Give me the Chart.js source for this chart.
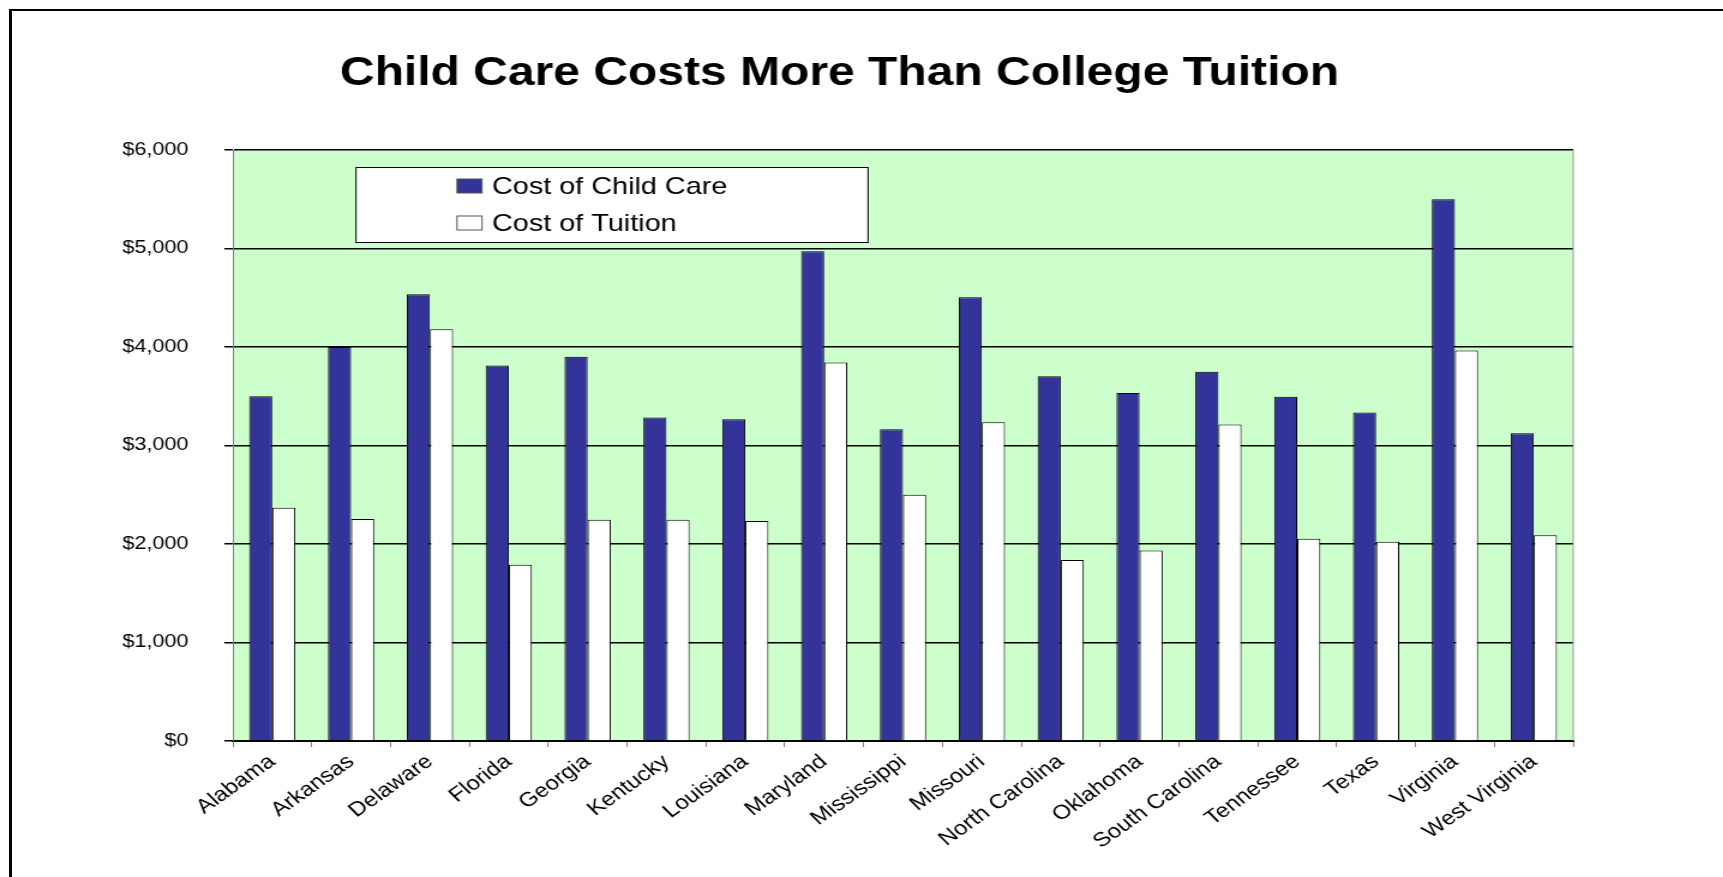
<!DOCTYPE html>
<html><head><meta charset="utf-8">
<script src="https://cdn.jsdelivr.net/npm/chart.js@4.4.1/dist/chart.umd.min.js"></script>
<style>
html,body{margin:0;padding:0;background:#fff;width:1723px;height:877px;overflow:hidden;}
#wrap{position:absolute;left:0;top:0;width:1436px;height:877px;transform:scaleX(1.2);transform-origin:0 0;}
#frame{position:absolute;left:9px;top:9px;right:-20px;bottom:-20px;border-top:2px solid #000;border-left:3px solid #000;pointer-events:none;}
</style></head><body>
<div id="wrap"><canvas id="c" width="1436" height="877"></canvas></div>
<div id="frame"></div>
<script>
const categories = ['Alabama','Arkansas','Delaware','Florida','Georgia','Kentucky','Louisiana','Maryland','Mississippi','Missouri','North Carolina','Oklahoma','South Carolina','Tennessee','Texas','Virginia','West Virginia'];
const childCareCost = [3500, 4000, 4535, 3812, 3901, 3283, 3266, 4973, 3164, 4505, 3704, 3532, 3750, 3496, 3334, 5501, 3124];
const tuitionCost = [2367, 2255, 4179, 1790, 2245, 2245, 2234, 3843, 2499, 3236, 1837, 1935, 3212, 2054, 2023, 3964, 2088];
const yTickLabels = ['$0','$1,000','$2,000','$3,000','$4,000','$5,000','$6,000'];
const seriesNames = ['Cost of Child Care','Cost of Tuition'];
const titleText = 'Child Care Costs More Than College Tuition';

const SX = 1.2;
const FONT = '"Liberation Sans", Arial, Helvetica, sans-serif';
Chart.defaults.font.family = FONT;
Chart.defaults.color = '#000';

const plotDecor = {
  id: 'plotDecor',
  beforeDraw(chart) {
    const {ctx, chartArea: a} = chart;
    ctx.save();
    ctx.fillStyle = '#CCFFCC';
    ctx.fillRect(a.left, a.top, a.right - a.left, a.bottom - a.top);
    ctx.restore();
  },
  afterDatasetsDraw(chart) {
    const {ctx, chartArea: a} = chart;
    ctx.save();
    ctx.strokeStyle = '#9a9a9a';
    ctx.lineWidth = 1;
    ctx.beginPath();
    ctx.moveTo(a.right, a.top);
    ctx.lineTo(a.right, a.bottom);
    ctx.stroke();
    // legend
    const bx = 356 / SX, by = 167, bw = (868 - 356) / SX, bh = 75;
    ctx.fillStyle = '#fff';
    ctx.fillRect(bx, by, bw, bh);
    ctx.strokeStyle = '#000';
    ctx.strokeRect(bx, by + 0.5, bw, bh);
    const rows = [186, 223];
    chart.data.datasets.forEach((ds, i) => {
      const cy = rows[i];
      const mx = 457 / SX, mw = 25 / SX, mh = 14;
      ctx.fillStyle = ds.backgroundColor;
      ctx.fillRect(mx, cy - mh / 2, mw, mh);
      ctx.strokeStyle = '#555';
      ctx.strokeRect(mx, cy - mh / 2, mw, mh);
      ctx.fillStyle = '#000';
      ctx.font = '24px ' + FONT;
      ctx.textAlign = 'left';
      ctx.textBaseline = 'middle';
      ctx.fillText(ds.label, 492 / SX, cy + 1);
    });
    // title
    ctx.font = 'bold 40px ' + FONT;
    ctx.textAlign = 'center';
    ctx.textBaseline = 'alphabetic';
    ctx.fillStyle = '#000';
    ctx.fillText(titleText, 839.5 / SX, 85);
    ctx.restore();
  }
};

new Chart(document.getElementById('c'), {
  type: 'bar',
  data: {
    labels: categories,
    datasets: [
      {label: seriesNames[0], data: childCareCost, backgroundColor: '#333399', borderColor: '#000', borderWidth: 1,
       categoryPercentage: 0.586, barPercentage: 1.0},
      {label: seriesNames[1], data: tuitionCost, backgroundColor: '#FFFFFF', borderColor: '#000', borderWidth: 1,
       categoryPercentage: 0.586, barPercentage: 1.0}
    ]
  },
  options: {
    responsive: false,
    animation: false,
    devicePixelRatio: 1,
    layout: {padding: {top: 150, right: 125, bottom: 0, left: 0}},
    plugins: {legend: {display: false}, title: {display: false}, tooltip: {enabled: false}},
    scales: {
      x: {
        ticks: {font: {size: 20}, color: '#000', minRotation: 40, maxRotation: 40, autoSkip: false, padding: 3},
        grid: {drawOnChartArea: false, drawTicks: true, tickLength: 6, color: '#808080', offset: true},
        border: {color: '#000', width: 2},
        afterFit(s) { s.height = 136; }
      },
      y: {
        min: 0, max: 6000,
        ticks: {stepSize: 1000, font: {size: 18}, color: '#000', padding: 30,
                callback: (v, i) => yTickLabels[i]},
        grid: {color: '#000', lineWidth: 1.5, tickLength: 7, drawTicks: true},
        border: {color: '#808080', width: 1},
        afterFit(s) { s.width = 194; }
      }
    }
  },
  plugins: [plotDecor]
});
</script>
</body></html>
